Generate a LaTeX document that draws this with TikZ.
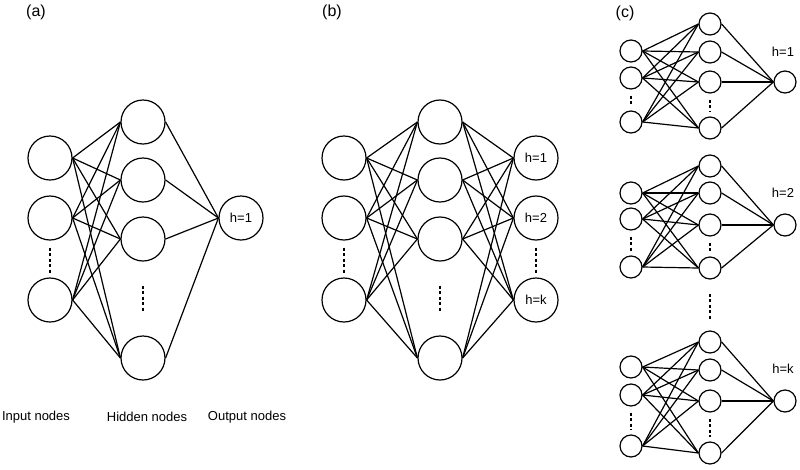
\documentclass[tikz,border=0pt]{standalone}
\usepackage{fontspec}
\setmainfont{Liberation Sans}

\begin{document}
\begin{tikzpicture}[x=1pt, y=-1pt, line width=1.2pt,
  neuron/.style={circle, draw, minimum size=44pt, inner sep=0pt, font=\fontsize{13}{15}\selectfont},
  little/.style={circle, draw, minimum size=22pt, inner sep=0pt},
  caption/.style={font=\fontsize{13}{15}\selectfont},
  panel/.style={font=\fontsize{16}{19}\selectfont},
  gap/.style={dash pattern=on 3pt off 2.5pt}
  ]
  \useasboundingbox (0,0) rectangle (800,469);

  % (a) one output
  \node[panel] (a-lab) at (36,12) {(a)};
  \node[neuron] (a-i1) at (50,158) {};
  \node[neuron] (a-i2) at (50,218) {};
  \node[neuron] (a-i3) at (50,300) {};
  \node[neuron] (a-h1) at (143,122) {};
  \node[neuron] (a-h2) at (143,180) {};
  \node[neuron] (a-h3) at (143,239) {};
  \node[neuron] (a-h4) at (143,358) {};
  \node[neuron] (a-o1) at (241,218) {h=1};
  \draw[gap, shorten <=7pt, shorten >=3pt] (a-i2.south) -- (a-i3.north);
  \draw[gap, shorten <=24pt, shorten >=23pt] (a-h3.south) -- (a-h4.north);
  \foreach \i in {1,2,3}
    \foreach \h in {1,...,4}
      \draw (a-i\i.east) -- (a-h\h.west);
  \foreach \h in {1,...,4}
    \draw (a-h\h.east) -- (a-o1.west);
  \node[caption] (a-in) at (36,417) {Input nodes};
  \node[caption] (a-hid) at (147,417) {Hidden nodes};
  \node[caption] (a-out) at (247,417) {Output nodes};

  % (b) k outputs
  \node[panel] (b-lab) at (332,12) {(b)};
  \node[neuron] (b-i1) at (344,158) {};
  \node[neuron] (b-i2) at (344,218) {};
  \node[neuron] (b-i3) at (344,300) {};
  \node[neuron] (b-h1) at (440,122) {};
  \node[neuron] (b-h2) at (440,180) {};
  \node[neuron] (b-h3) at (440,239) {};
  \node[neuron] (b-h4) at (440,358) {};
  \node[neuron] (b-o1) at (536,158) {h=1};
  \node[neuron] (b-o2) at (536,218) {h=2};
  \node[neuron] (b-o3) at (536,300) {h=k};
  \draw[gap, shorten <=7pt, shorten >=3pt] (b-i2.south) -- (b-i3.north);
  \draw[gap, shorten <=7pt, shorten >=3pt] (b-o2.south) -- (b-o3.north);
  \draw[gap, shorten <=24pt, shorten >=23pt] (b-h3.south) -- (b-h4.north);
  \foreach \i in {1,2,3}
    \foreach \h in {1,...,4}
      \draw (b-i\i.east) -- (b-h\h.west);
  \foreach \h in {1,...,4}
    \foreach \o in {1,2,3}
      \draw (b-h\h.east) -- (b-o\o.west);

  % (c) k separate networks
  \node[panel] (c-lab) at (625,13) {(c)};
  \foreach \s/\iy/\hy/\ly/\txt in {1/{51,78,122}/{24,52,82,128}/52/h=1,
                                   2/{193,219,267}/{166,193,225,268}/193/h=2,
                                   3/{367,395,446}/{342,370,401,453}/369/h=k}{
    \foreach \y [count=\n] in \iy
      \node[little] (c\s-i\n) at (631,\y) {};
    \foreach \y [count=\n] in \hy
      \node[little] (c\s-h\n) at (710,\y) {};
    \node[little] (c\s-o) at (785,0 |- c\s-h3) {};
    \node[caption] (c\s-lab) at (783,\ly) {\txt};
    \draw[gap, shorten <=6pt, shorten >=4pt] (c\s-i2.south) -- (c\s-i3.north);
    \draw[gap, shorten <=6pt, shorten >=4pt] (c\s-h3.south) -- (c\s-h4.north);
    \foreach \i in {1,2,3}
      \foreach \h in {1,...,4}
        \draw (c\s-i\i.east) -- (c\s-h\h.west);
    \foreach \h in {1,...,4}
      \draw (c\s-h\h.east) -- (c\s-o.west);
  }
  \draw[gap, shorten <=14pt, shorten >=11pt] (c2-h4.south) -- (c3-h1.north);
\end{tikzpicture}
\end{document}
